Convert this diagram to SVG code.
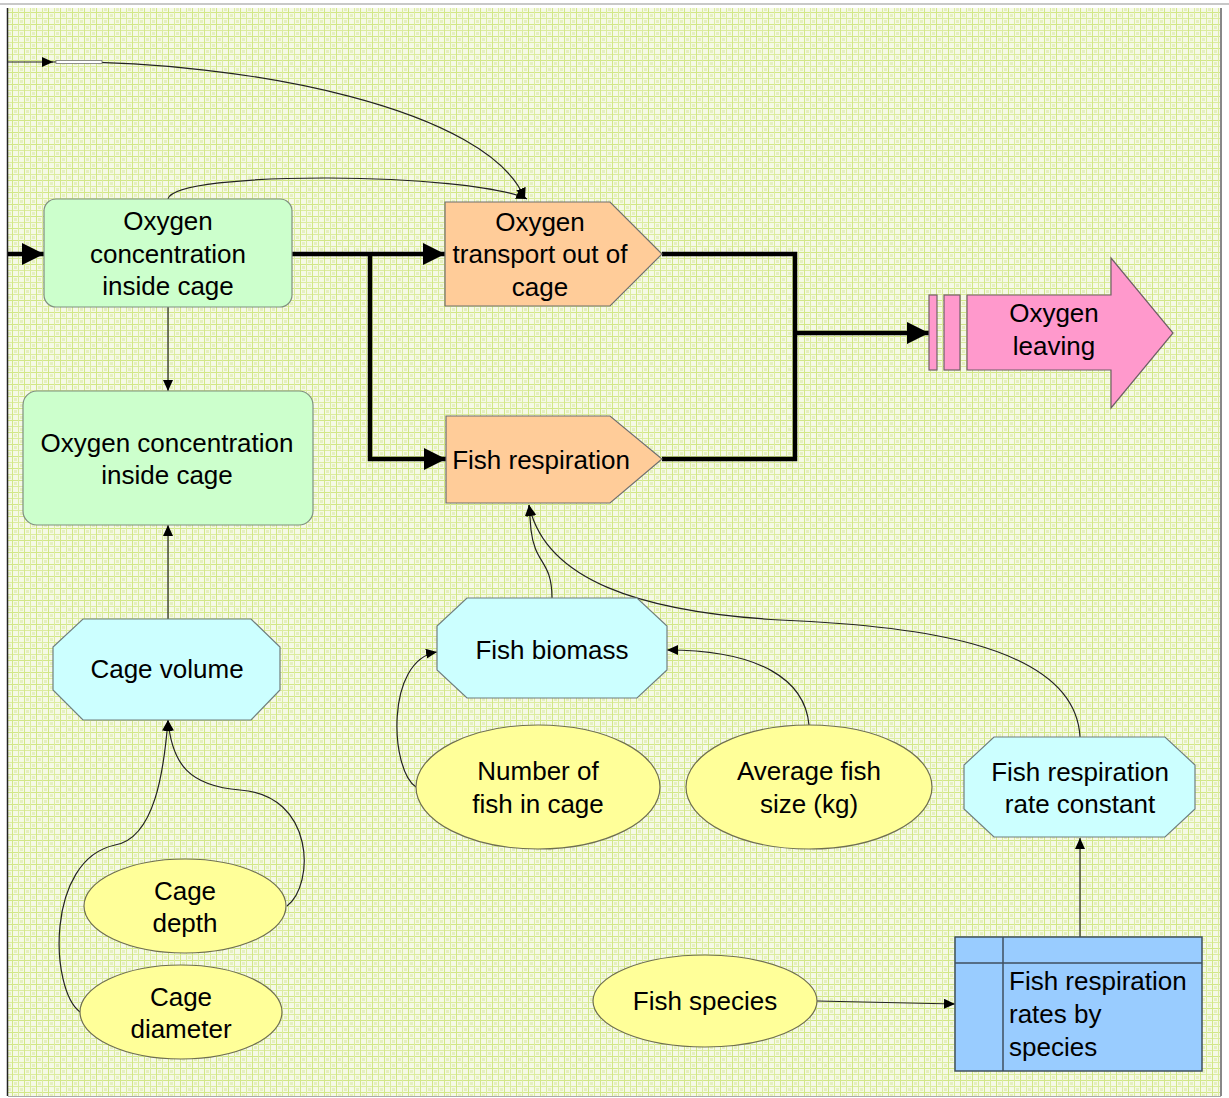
<svg xmlns="http://www.w3.org/2000/svg" width="1229" height="1098" viewBox="0 0 1229 1098">
<defs>
<pattern id="bg" width="12" height="12" patternUnits="userSpaceOnUse">
<rect width="12" height="12" fill="#f5f9e6"/>
<rect x="2" y="2" width="3" height="3" fill="#e6f0c0"/>
<rect x="8" y="8" width="3" height="3" fill="#e6f0c0"/>
<rect x="0" y="0" width="12" height="1" fill="#d2e787"/>
<rect x="0" y="6" width="12" height="1" fill="#dcec9f"/>
<rect x="0" y="0" width="1" height="12" fill="#d2e787"/>
<rect x="6" y="0" width="1" height="12" fill="#dcec9f"/>
</pattern>
<marker id="big" markerUnits="userSpaceOnUse" markerWidth="24" markerHeight="22" refX="22" refY="11" orient="auto">
<path d="M0,0 L22,11 L0,22 Z" fill="#000"/>
</marker>
<marker id="small" markerUnits="userSpaceOnUse" markerWidth="12" markerHeight="10" refX="11" refY="5" orient="auto">
<path d="M0,0 L11,5 L0,10 Z" fill="#000"/>
</marker>
</defs>
<style>
text{font-family:"Liberation Sans",Arial,sans-serif;font-size:26px;fill:#000;text-anchor:middle}
.green{fill:#ccffcc;stroke:#7f8f7f;stroke-width:1.2}
.orange{fill:#ffcc99;stroke:#6f6f6f;stroke-width:1.2}
.cyan{fill:#ccffff;stroke:#6f7f7f;stroke-width:1.2}
.yellow{fill:#ffff99;stroke:#6f6f50;stroke-width:1.2}
.pink{fill:#ff99cc;stroke:#6f5f66;stroke-width:1.2}
.table{fill:#99ccff;stroke:#3f4f5f;stroke-width:1.5}
.flow{fill:none;stroke:#000;stroke-width:4.5}
.link{fill:none;stroke:#222;stroke-width:1.2}
</style>
<rect x="0" y="0" width="1229" height="1098" fill="#fff"/>
<line x1="0" y1="4" x2="1229" y2="4" stroke="#c8c8c8" stroke-width="2"/>
<rect x="8" y="8" width="1213" height="1088" fill="url(#bg)"/>
<line x1="7.5" y1="8" x2="7.5" y2="1096" stroke="#222" stroke-width="1.5"/>
<line x1="1221" y1="8" x2="1221" y2="1096" stroke="#888" stroke-width="2"/>
<line x1="8" y1="1096.5" x2="1221" y2="1096.5" stroke="#aaa" stroke-width="1"/>

<g id="connectors">
<path class="flow" d="M8,254 L44,254" marker-end="url(#big)"/>
<path class="flow" d="M292,254 L445,254" marker-end="url(#big)"/>
<path class="flow" d="M370,254 L370,459 L446,459" marker-end="url(#big)"/>
<path class="flow" d="M662,254 L795,254 L795,459 L662,459"/>
<path class="flow" d="M795,333 L929,333" marker-end="url(#big)"/>
<path class="link" d="M8,62 L53,62" marker-end="url(#small)"/>
<path class="link" d="M52,62 C 250,60 490,110 525,199" marker-end="url(#small)"/>
<rect x="56" y="60.5" width="46" height="3" fill="#fff" stroke="#777" stroke-width="0.8"/>
<path class="link" d="M168,199 C 175,170 470,172 527,199" marker-end="url(#small)"/>
<path class="link" d="M168,307 L168,391" marker-end="url(#small)"/>
<path class="link" d="M168,619 L168,525" marker-end="url(#small)"/>
<path class="link" d="M287,906 C 315,885 315,795 240,790 C 190,786 172,765 168,720" marker-end="url(#small)"/>
<path class="link" d="M80,1012 C 50,990 45,860 115,845 C 155,838 164,770 168,720" marker-end="url(#small)"/>
<path class="link" d="M416,787 C 390,770 385,660 437,652" marker-end="url(#small)"/>
<path class="link" d="M809,725 C 805,680 760,650 667,650" marker-end="url(#small)"/>
<path class="link" d="M552,598 C 552,560 535,565 531,530 L529,505" marker-end="url(#small)"/>
<path class="link" d="M1080,737 C 1075,640 900,625 780,620 C 640,612 545,580 529,505" marker-end="url(#small)"/>
<path class="link" d="M1080,937 L1080,838" marker-end="url(#small)"/>
<path class="link" d="M817,1001 L955,1004" marker-end="url(#small)"/>
</g>

<g id="oxygen-concentration-1">
<rect class="green" x="44" y="199" width="248" height="108" rx="12"/>
<text x="168" y="230">Oxygen</text>
<text x="168" y="263">concentration</text>
<text x="168" y="295">inside cage</text>
</g>
<g id="oxygen-concentration-2">
<rect class="green" x="23" y="391" width="290" height="134" rx="14"/>
<text x="167" y="452">Oxygen concentration</text>
<text x="167" y="484">inside cage</text>
</g>
<g id="oxygen-transport">
<path class="orange" d="M445,202 L610,202 L662,254 L610,306 L445,306 Z"/>
<text x="540" y="231">Oxygen</text>
<text x="540" y="263">transport out of</text>
<text x="540" y="296">cage</text>
</g>
<g id="fish-respiration">
<path class="orange" d="M446,416 L610,416 L662,459 L610,503 L446,503 Z"/>
<text x="541" y="469">Fish respiration</text>
</g>
<g id="oxygen-leaving">
<rect class="pink" x="929" y="295" width="8" height="75"/>
<rect class="pink" x="944" y="295" width="16" height="75"/>
<path class="pink" d="M967,295 L1111,295 L1111,258 L1173,333 L1111,408 L1111,370 L967,370 Z"/>
<text x="1054" y="322">Oxygen</text>
<text x="1054" y="355">leaving</text>
</g>
<g id="cage-volume">
<path class="cyan" d="M83,619 L251,619 L280,647 L280,690 L251,720 L83,720 L53,690 L53,647 Z"/>
<text x="167" y="678">Cage volume</text>
</g>
<g id="fish-biomass">
<path class="cyan" d="M467,598 L637,598 L667,626 L667,670 L637,698 L467,698 L437,670 L437,626 Z"/>
<text x="552" y="659">Fish biomass</text>
</g>
<g id="fish-respiration-rate-constant">
<path class="cyan" d="M994,737 L1165,737 L1195,765 L1195,809 L1165,837 L994,837 L964,809 L964,765 Z"/>
<text x="1080" y="781">Fish respiration</text>
<text x="1080" y="813">rate constant</text>
</g>
<g id="number-of-fish">
<ellipse class="yellow" cx="538" cy="787" rx="122" ry="62"/>
<text x="538" y="780">Number of</text>
<text x="538" y="813">fish in cage</text>
</g>
<g id="average-fish-size">
<ellipse class="yellow" cx="809" cy="787" rx="123" ry="62"/>
<text x="809" y="780">Average fish</text>
<text x="809" y="813">size (kg)</text>
</g>
<g id="cage-depth">
<ellipse class="yellow" cx="185" cy="906" rx="101" ry="47"/>
<text x="185" y="900">Cage</text>
<text x="185" y="932">depth</text>
</g>
<g id="cage-diameter">
<ellipse class="yellow" cx="181" cy="1012" rx="101" ry="47"/>
<text x="181" y="1006">Cage</text>
<text x="181" y="1038">diameter</text>
</g>
<g id="fish-species">
<ellipse class="yellow" cx="705" cy="1001" rx="112" ry="46"/>
<text x="705" y="1010">Fish species</text>
</g>
<g id="fish-respiration-rates-table">
<rect class="table" x="955" y="937" width="247" height="134"/>
<line x1="955" y1="963" x2="1202" y2="963" stroke="#3f4f5f" stroke-width="1.5"/>
<line x1="1003" y1="937" x2="1003" y2="1071" stroke="#3f4f5f" stroke-width="1.5"/>
<text x="1009" y="990" style="text-anchor:start">Fish respiration</text>
<text x="1009" y="1023" style="text-anchor:start">rates by</text>
<text x="1009" y="1056" style="text-anchor:start">species</text>
</g>
</svg>
